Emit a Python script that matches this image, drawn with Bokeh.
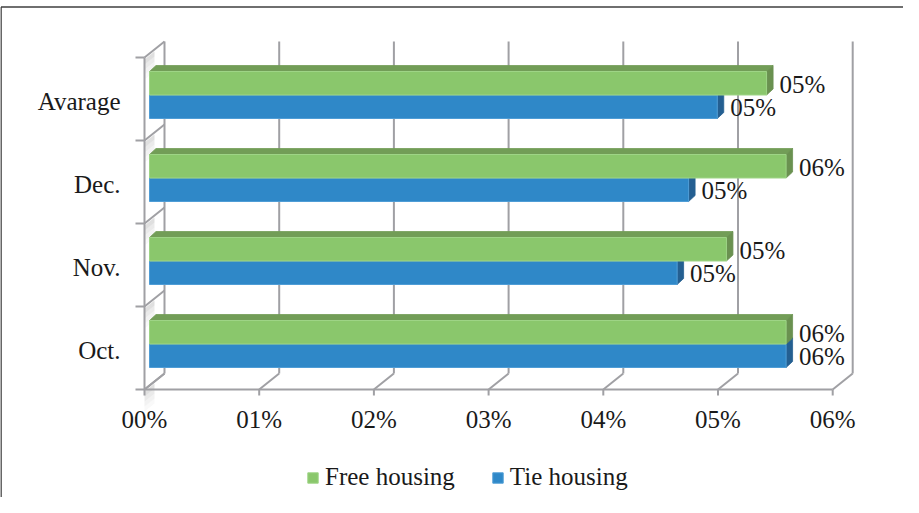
from bokeh.plotting import figure
from bokeh.models import Legend, LegendItem, Range1d
from bokeh.core.properties import value
from bokeh.embed import file_html
from bokeh.resources import INLINE

# ---------------- data ----------------
categories = ["Oct.", "Nov.", "Dec.", "Avarage"]
free_housing = [0.0555, 0.0503, 0.0555, 0.0538]
tie_housing = [0.0555, 0.0460, 0.0470, 0.0495]
x_ticks = [0.00, 0.01, 0.02, 0.03, 0.04, 0.05, 0.06]
x_tick_labels = ["00%", "01%", "02%", "03%", "04%", "05%", "06%"]
series_names = ["Free housing", "Tie housing"]

# ---------------- geometry (pixels) ----------------
W, H = 903, 497
X0 = 144.0      # canvas px of value 0 on the front plane
SX = 11470.0    # px per unit of value
Y0 = 389.0      # canvas px of the category baseline
SY = 83.0       # px per category band

def px(n):
    return n / SX

def py(n):
    return n / SY

DX, DY = 20, 16       # wall depth offset
BX, BY = 5, 4         # bar position inside depth
TX, TY = 6.5, 6       # bar thickness (3D face)
BH = 23.5             # bar height

FONT = "Liberation Serif"
FS = "25px"
GRID = "#a0a0a4"

p = figure(width=W, height=H, output_backend="svg", toolbar_location=None,
           x_axis_location=None, y_axis_location=None,
           x_range=Range1d(-X0 / SX, (W - X0) / SX),
           y_range=Range1d(-(H - Y0) / SY, Y0 / SY),
           min_border=0, min_border_left=0, min_border_right=0,
           min_border_top=0, min_border_bottom=0)
p.grid.visible = False
p.outline_line_color = None
p.background_fill_color = "white"
p.border_fill_color = "white"

n = len(categories)
xmax = x_ticks[-1]

# outer chart border (top and left visible)
p.segment(x0=[(0.5 - X0) / SX, (0.5 - X0) / SX], y0=[(Y0 - 6.5) / SY, (Y0 - 6.5) / SY],
          x1=[(W - X0) / SX, (0.5 - X0) / SX], y1=[(Y0 - 6.5) / SY, -(H - Y0) / SY],
          line_color="#3f3f3f", line_width=1.6)

# left wall shading under each category division
for k in range(n + 1):
    for j, a in enumerate([0.25, 0.17, 0.1, 0.05]):
        y_top = k - py(2 + 5 * j)
        y_bot = k - py(2 + 5 * (j + 1))
        p.patch(x=[0, px(10), px(10), 0],
                y=[y_top, y_top + py(8), y_bot + py(8), y_bot],
                fill_color="#808080", fill_alpha=a, line_color=None)

# back wall gridlines
p.segment(x0=[t + px(DX) for t in x_ticks], y0=[py(DY)] * len(x_ticks),
          x1=[t + px(DX) for t in x_ticks], y1=[n + py(DY)] * len(x_ticks),
          line_color=GRID, line_width=2)
# floor: front edge, diagonals, ticks
p.segment(x0=[0], y0=[0], x1=[xmax], y1=[0], line_color=GRID, line_width=2)
p.segment(x0=x_ticks, y0=[0] * len(x_ticks),
          x1=[t + px(DX) for t in x_ticks], y1=[py(DY)] * len(x_ticks),
          line_color=GRID, line_width=2)
p.segment(x0=x_ticks, y0=[0] * len(x_ticks), x1=x_ticks, y1=[-py(6)] * len(x_ticks),
          line_color=GRID, line_width=2)
# left wall: front edge, category divisions, ticks
p.segment(x0=[0], y0=[0], x1=[0], y1=[n], line_color=GRID, line_width=2)
p.segment(x0=[0] * (n + 1), y0=list(range(n + 1)),
          x1=[px(DX)] * (n + 1), y1=[k + py(DY) for k in range(n + 1)],
          line_color=GRID, line_width=2)
p.segment(x0=[-px(9)] * (n + 1), y0=list(range(n + 1)),
          x1=[0] * (n + 1), y1=list(range(n + 1)),
          line_color=GRID, line_width=2)

# ---------------- bars ----------------
def bar_geom(vals, lower):
    fl, fr, fb, ft = [], [], [], []
    for i, v in enumerate(vals):
        base = i + 0.5 + py(BY)
        if lower:
            b, t = base - py(BH), base
        else:
            b, t = base, base + py(BH)
        fl.append(px(BX)); fr.append(v + px(BX)); fb.append(b); ft.append(t)
    top_x = [[l, r, r + px(TX), l + px(TX)] for l, r in zip(fl, fr)]
    top_y = [[t, t, t + py(TY), t + py(TY)] for t in ft]
    end_x = [[r, r, r + px(TX), r + px(TX)] for r in fr]
    end_y = [[b, t, t + py(TY), b + py(TY)] for b, t in zip(fb, ft)]
    return fl, fr, fb, ft, top_x, top_y, end_x, end_y

renderers = {}
for vals, lower, front, topc, endc, edge, name in [
        (tie_housing, True, "#2f88c8", "#2a6fa5", "#245f91", "#4f9dd6", series_names[1]),
        (free_housing, False, "#8ac76c", "#729d57", "#6a9150", "#9ed486", series_names[0])]:
    fl, fr, fb, ft, tx, ty, ex, ey = bar_geom(vals, lower)
    p.patches(xs=tx, ys=ty, fill_color=topc, line_color=topc, line_width=0.8)
    p.patches(xs=ex, ys=ey, fill_color=endc, line_color=endc, line_width=0.8)
    r = p.quad(left=fl, right=fr, bottom=fb, top=ft, fill_color=front,
               line_color=edge, line_width=1)
    renderers[name] = r
    # data labels
    lab = ["%02d%%" % round(v * 100) for v in vals]
    p.text(x=[r_ + px(TX + 6.5) for r_ in fr], y=[(b + t) / 2 - py(1) for b, t in zip(fb, ft)],
           text=lab, text_font=value(FONT), text_font_size=FS,
           text_color="#1a1a1a", text_align="left", text_baseline="middle")

# category labels
p.text(x=[-px(24)] * n, y=[k + 0.5 - py(2.5) for k in range(n)], text=categories,
       text_font=value(FONT), text_font_size=FS, text_color="#1a1a1a",
       text_align="right", text_baseline="middle")
# value tick labels
p.text(x=x_ticks, y=[-py(29.5)] * len(x_ticks), text=x_tick_labels,
       text_font=value(FONT), text_font_size=FS, text_color="#1a1a1a",
       text_align="center", text_baseline="middle")

legend = Legend(items=[LegendItem(label=series_names[0], renderers=[renderers[series_names[0]]]),
                       LegendItem(label=series_names[1], renderers=[renderers[series_names[1]]])],
                orientation="horizontal", location=(306, 6),
                label_text_font=FONT, label_text_font_size=FS, label_text_color="#1a1a1a",
                glyph_width=13, glyph_height=13, label_standoff=6, spacing=36,
                padding=0, margin=0, border_line_color=None, background_fill_alpha=0)
p.add_layout(legend, "center")

open("out.html", "w").write(file_html(p, INLINE))
